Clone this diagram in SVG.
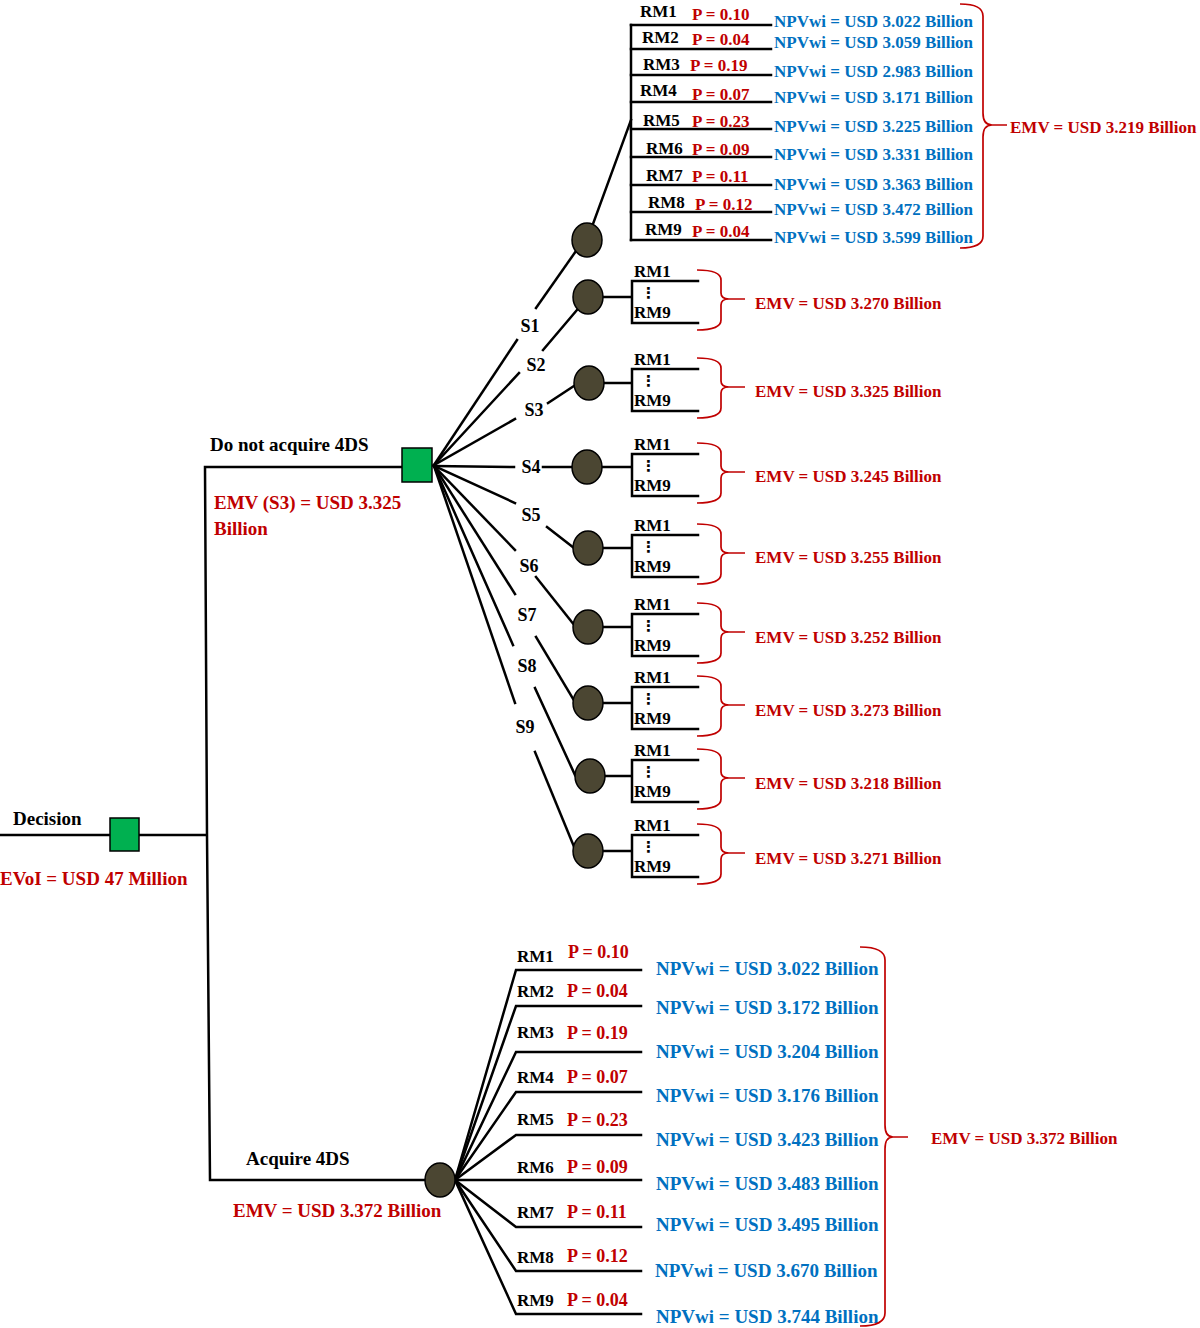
<svg xmlns="http://www.w3.org/2000/svg" width="1200" height="1328" viewBox="0 0 1200 1328">
<defs>
<style>
.ln{stroke:#000;stroke-width:2.5;fill:none;stroke-linecap:square}
.br{stroke:#c00000;stroke-width:1.7;fill:none}
.t{font-family:"Liberation Serif","Times New Roman",serif;font-weight:bold}
.k{fill:#000}
.r{fill:#c00000}
.b{fill:#0070c0}
.ch{fill:#4b4632;stroke:#000;stroke-width:1.5}
.dec{fill:#00b050;stroke:#000;stroke-width:1.5}
.s{font-size:18px;text-anchor:middle}
.f17{font-size:17px}
.f18{font-size:18px}
.f19{font-size:19px}
.dots{font-family:"DejaVu Sans",sans-serif;font-size:15px;font-weight:bold;fill:#000}
</style>
</defs>
<rect width="1200" height="1328" fill="#fff"/>

<g id="connectors">
<polyline class="ln" points="0,835 205,835"/>
<polyline class="ln" points="402,467 205,467 207,835 210,1180 425,1180"/>
<!-- fan from do-not-acquire -->
<line class="ln" x1="434" y1="465" x2="517" y2="340"/>
<line class="ln" x1="536" y1="308" x2="576" y2="251"/>
<line class="ln" x1="434" y1="465" x2="519" y2="373"/>
<line class="ln" x1="543" y1="350" x2="577" y2="310"/>
<line class="ln" x1="434" y1="465" x2="515" y2="419"/>
<line class="ln" x1="548" y1="403" x2="574" y2="386"/>
<line class="ln" x1="434" y1="466" x2="514" y2="467"/>
<line class="ln" x1="543" y1="467" x2="572" y2="467"/>
<line class="ln" x1="434" y1="466" x2="515" y2="503"/>
<line class="ln" x1="547" y1="527" x2="574" y2="548"/>
<line class="ln" x1="434" y1="466" x2="515" y2="550"/>
<line class="ln" x1="536" y1="577" x2="575" y2="626"/>
<line class="ln" x1="434" y1="466" x2="515" y2="594"/>
<line class="ln" x1="536" y1="637" x2="575" y2="702"/>
<line class="ln" x1="434" y1="466" x2="513" y2="645"/>
<line class="ln" x1="535" y1="688" x2="575" y2="775"/>
<line class="ln" x1="434" y1="466" x2="515" y2="703"/>
<line class="ln" x1="535" y1="752" x2="575" y2="849"/>
<!-- S1 outcomes -->
<line class="ln" x1="593" y1="224" x2="631" y2="120"/>
<line class="ln" x1="631" y1="25" x2="631" y2="240"/>
<line class="ln" x1="631" y1="25" x2="771" y2="25"/>
<line class="ln" x1="631" y1="49" x2="771" y2="49"/>
<line class="ln" x1="631" y1="75" x2="771" y2="75"/>
<line class="ln" x1="631" y1="102" x2="771" y2="102"/>
<line class="ln" x1="631" y1="129" x2="771" y2="129"/>
<line class="ln" x1="631" y1="157" x2="771" y2="157"/>
<line class="ln" x1="631" y1="185" x2="771" y2="185"/>
<line class="ln" x1="631" y1="212" x2="771" y2="212"/>
<line class="ln" x1="631" y1="240" x2="771" y2="240"/>
<!-- S2..S9 outcome stubs -->
<path class="ln" d="M603,297 H632 M698,281 H632 V323 H698"/>
<path class="ln" d="M603,383 H632 M698,369 H632 V411 H698"/>
<path class="ln" d="M602,467 H632 M698,454 H632 V496 H698"/>
<path class="ln" d="M603,548 H632 M698,535 H632 V577 H698"/>
<path class="ln" d="M603,627 H632 M698,614 H632 V656 H698"/>
<path class="ln" d="M603,703 H632 M698,687 H632 V729 H698"/>
<path class="ln" d="M605,776 H632 M698,760 H632 V802 H698"/>
<path class="ln" d="M603,851 H632 M698,835 H632 V877 H698"/>
<!-- acquire outcomes -->
<path class="ln" d="M455,1180 L516,970 H641"/>
<path class="ln" d="M455,1180 L516,1006 H641"/>
<path class="ln" d="M455,1180 L516,1052 H641"/>
<path class="ln" d="M455,1180 L516,1092 H641"/>
<path class="ln" d="M455,1180 L516,1135 H641"/>
<path class="ln" d="M455,1180 H641"/>
<path class="ln" d="M455,1180 L516,1227 H641"/>
<path class="ln" d="M455,1180 L516,1271 H641"/>
<path class="ln" d="M455,1180 L516,1314 H641"/>
</g>

<g id="decision">
<rect class="dec" x="110" y="818" width="29" height="33"/>
<text class="t k f19" x="13" y="825">Decision</text>
<text class="t r f19" x="0" y="885">EVoI = USD 47 Million</text>
</g>

<g id="do-not-acquire">
<rect class="dec" x="402" y="448" width="30" height="34"/>
<text class="t k f19" x="210" y="451">Do not acquire 4DS</text>
<text class="t r f19" x="214" y="509">EMV (S3) = USD 3.325</text>
<text class="t r f19" x="214" y="535">Billion</text>
</g>

<g id="strategy-labels" class="t k s">
<text x="530" y="332">S1</text>
<text x="536" y="371">S2</text>
<text x="534" y="416">S3</text>
<text x="531" y="473">S4</text>
<text x="531" y="521">S5</text>
<text x="529" y="572">S6</text>
<text x="527" y="621">S7</text>
<text x="527" y="672">S8</text>
<text x="525" y="733">S9</text>
</g>

<g id="s1">
<ellipse class="ch" cx="587" cy="240" rx="15" ry="17"/>
<g class="t k f17">
<text x="640" y="17">RM1</text>
<text x="642" y="43">RM2</text>
<text x="643" y="70">RM3</text>
<text x="640" y="96">RM4</text>
<text x="643" y="126">RM5</text>
<text x="646" y="154">RM6</text>
<text x="646" y="181">RM7</text>
<text x="648" y="208">RM8</text>
<text x="645" y="235">RM9</text>
</g>
<g class="t r f17">
<text x="692" y="20">P = 0.10</text>
<text x="692" y="45">P = 0.04</text>
<text x="690" y="71">P = 0.19</text>
<text x="692" y="100">P = 0.07</text>
<text x="692" y="127">P = 0.23</text>
<text x="692" y="155">P = 0.09</text>
<text x="692" y="182">P = 0.11</text>
<text x="695" y="210">P = 0.12</text>
<text x="692" y="237">P = 0.04</text>
</g>
<g class="t b f17">
<text x="774" y="27">NPVwi = USD 3.022 Billion</text>
<text x="774" y="48">NPVwi = USD 3.059 Billion</text>
<text x="774" y="77">NPVwi = USD 2.983 Billion</text>
<text x="774" y="103">NPVwi = USD 3.171 Billion</text>
<text x="774" y="132">NPVwi = USD 3.225 Billion</text>
<text x="774" y="160">NPVwi = USD 3.331 Billion</text>
<text x="774" y="190">NPVwi = USD 3.363 Billion</text>
<text x="774" y="215">NPVwi = USD 3.472 Billion</text>
<text x="774" y="243">NPVwi = USD 3.599 Billion</text>
</g>
<path class="br" d="M960,4 Q983,4 983,16 L983,113 Q983,125 992,125 Q983,125 983,137 L983,236 Q983,248 960,248 M990,125 H1007"/>
<text class="t r f17" x="1010" y="133">EMV = USD 3.219 Billion</text>
</g>

<g id="s2">
<ellipse class="ch" cx="588" cy="297" rx="15" ry="17"/>
<text class="t k f17" x="634" y="277">RM1</text><text class="dots" x="641" y="298">⋮</text><text class="t k f17" x="634" y="318">RM9</text>
<path class="br" d="M697,270 Q721,270 721,280 L721,293 Q721,299 729,299 Q721,299 721,305 L721,320 Q721,330 697,330 M727,299 H745"/>
<text class="t r f17" x="755" y="309">EMV = USD 3.270 Billion</text>
</g>
<g id="s3">
<ellipse class="ch" cx="589" cy="383" rx="15" ry="17"/>
<text class="t k f17" x="634" y="365">RM1</text><text class="dots" x="641" y="386">⋮</text><text class="t k f17" x="634" y="406">RM9</text>
<path class="br" d="M697,358 Q721,358 721,368 L721,381 Q721,387 729,387 Q721,387 721,393 L721,408 Q721,418 697,418 M727,387 H745"/>
<text class="t r f17" x="755" y="397">EMV = USD 3.325 Billion</text>
</g>
<g id="s4">
<ellipse class="ch" cx="587" cy="467" rx="15" ry="17"/>
<text class="t k f17" x="634" y="450">RM1</text><text class="dots" x="641" y="471">⋮</text><text class="t k f17" x="634" y="491">RM9</text>
<path class="br" d="M697,443 Q721,443 721,453 L721,466 Q721,472 729,472 Q721,472 721,478 L721,493 Q721,503 697,503 M727,472 H745"/>
<text class="t r f17" x="755" y="482">EMV = USD 3.245 Billion</text>
</g>
<g id="s5">
<ellipse class="ch" cx="588" cy="548" rx="15" ry="17"/>
<text class="t k f17" x="634" y="531">RM1</text><text class="dots" x="641" y="552">⋮</text><text class="t k f17" x="634" y="572">RM9</text>
<path class="br" d="M697,524 Q721,524 721,534 L721,547 Q721,553 729,553 Q721,553 721,559 L721,574 Q721,584 697,584 M727,553 H745"/>
<text class="t r f17" x="755" y="563">EMV = USD 3.255 Billion</text>
</g>
<g id="s6">
<ellipse class="ch" cx="588" cy="627" rx="15" ry="17"/>
<text class="t k f17" x="634" y="610">RM1</text><text class="dots" x="641" y="631">⋮</text><text class="t k f17" x="634" y="651">RM9</text>
<path class="br" d="M697,603 Q721,603 721,613 L721,626 Q721,632 729,632 Q721,632 721,638 L721,653 Q721,663 697,663 M727,632 H745"/>
<text class="t r f17" x="755" y="643">EMV = USD 3.252 Billion</text>
</g>
<g id="s7">
<ellipse class="ch" cx="588" cy="703" rx="15" ry="17"/>
<text class="t k f17" x="634" y="683">RM1</text><text class="dots" x="641" y="704">⋮</text><text class="t k f17" x="634" y="724">RM9</text>
<path class="br" d="M697,676 Q721,676 721,686 L721,699 Q721,705 729,705 Q721,705 721,711 L721,726 Q721,736 697,736 M727,705 H745"/>
<text class="t r f17" x="755" y="716">EMV = USD 3.273 Billion</text>
</g>
<g id="s8">
<ellipse class="ch" cx="590" cy="776" rx="15" ry="17"/>
<text class="t k f17" x="634" y="756">RM1</text><text class="dots" x="641" y="777">⋮</text><text class="t k f17" x="634" y="797">RM9</text>
<path class="br" d="M697,749 Q721,749 721,759 L721,772 Q721,778 729,778 Q721,778 721,784 L721,799 Q721,809 697,809 M727,778 H745"/>
<text class="t r f17" x="755" y="789">EMV = USD 3.218 Billion</text>
</g>
<g id="s9">
<ellipse class="ch" cx="588" cy="851" rx="15" ry="17"/>
<text class="t k f17" x="634" y="831">RM1</text><text class="dots" x="641" y="852">⋮</text><text class="t k f17" x="634" y="872">RM9</text>
<path class="br" d="M697,824 Q721,824 721,834 L721,847 Q721,853 729,853 Q721,853 721,859 L721,874 Q721,884 697,884 M727,853 H745"/>
<text class="t r f17" x="755" y="864">EMV = USD 3.271 Billion</text>
</g>

<g id="acquire">
<ellipse class="ch" cx="440" cy="1180" rx="15" ry="17"/>
<text class="t k f19" x="246" y="1165">Acquire 4DS</text>
<text class="t r f19" x="233" y="1217">EMV = USD 3.372 Billion</text>
<g class="t k f17">
<text x="517" y="962">RM1</text>
<text x="517" y="997">RM2</text>
<text x="517" y="1038">RM3</text>
<text x="517" y="1083">RM4</text>
<text x="517" y="1125">RM5</text>
<text x="517" y="1173">RM6</text>
<text x="517" y="1218">RM7</text>
<text x="517" y="1263">RM8</text>
<text x="517" y="1306">RM9</text>
</g>
<g class="t r f18">
<text x="568" y="958">P = 0.10</text>
<text x="567" y="997">P = 0.04</text>
<text x="567" y="1039">P = 0.19</text>
<text x="567" y="1083">P = 0.07</text>
<text x="567" y="1126">P = 0.23</text>
<text x="567" y="1173">P = 0.09</text>
<text x="567" y="1218">P = 0.11</text>
<text x="567" y="1262">P = 0.12</text>
<text x="567" y="1306">P = 0.04</text>
</g>
<g class="t b f19">
<text x="656" y="975">NPVwi = USD 3.022 Billion</text>
<text x="656" y="1014">NPVwi = USD 3.172 Billion</text>
<text x="656" y="1058">NPVwi = USD 3.204 Billion</text>
<text x="656" y="1102">NPVwi = USD 3.176 Billion</text>
<text x="656" y="1146">NPVwi = USD 3.423 Billion</text>
<text x="656" y="1190">NPVwi = USD 3.483 Billion</text>
<text x="656" y="1231">NPVwi = USD 3.495 Billion</text>
<text x="655" y="1277">NPVwi = USD 3.670 Billion</text>
<text x="656" y="1323">NPVwi = USD 3.744 Billion</text>
</g>
<path class="br" d="M860,947 Q885,947 885,960 L885,1125 Q885,1137 893,1137 Q885,1137 885,1149 L885,1313 Q885,1326 860,1326 M891,1137 H908"/>
<text class="t r f17" x="931" y="1144">EMV = USD 3.372 Billion</text>
</g>
</svg>
